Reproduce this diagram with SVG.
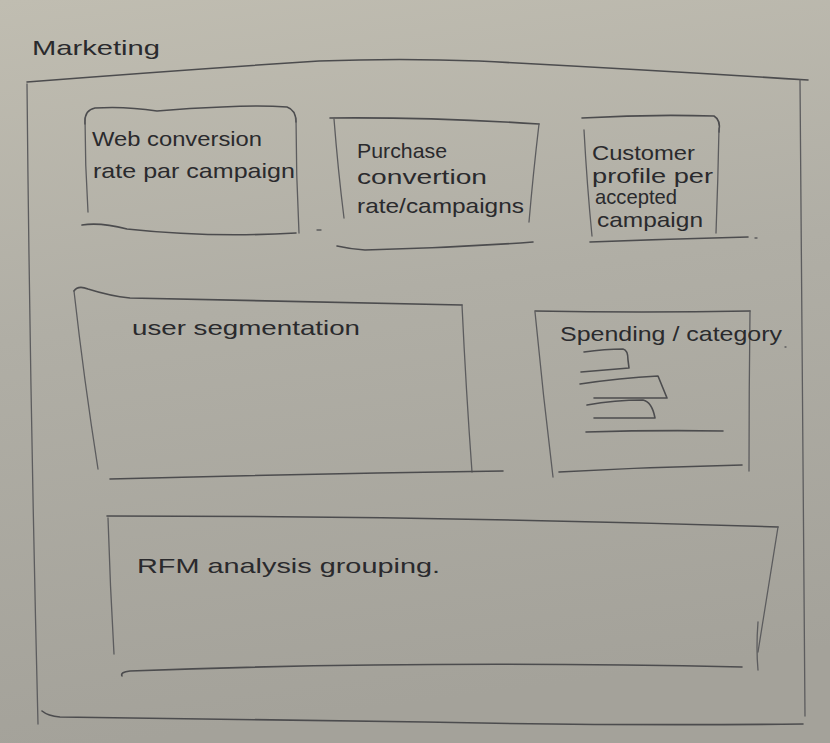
<svg xmlns="http://www.w3.org/2000/svg" width="830" height="743" viewBox="0 0 830 743">
  <defs>
    <linearGradient id="paper" x1="0" y1="0" x2="0.15" y2="1">
      <stop offset="0" stop-color="#c0bdb1"/>
      <stop offset="0.45" stop-color="#b0aea5"/>
      <stop offset="1" stop-color="#a4a29a"/>
    </linearGradient>
    <style>
      .pencil { fill: none; stroke: #4c4c4e; stroke-width: 1.6; stroke-linecap: round; stroke-linejoin: round; }
      .soft { stroke: #5c5c5e; stroke-width: 1.3; }
      .hand { font-family: "Liberation Sans", "DejaVu Sans", sans-serif; fill: #2a2a2d; font-size: 21px; }
    </style>
  </defs>

  <!-- paper -->
  <rect x="0" y="0" width="830" height="743" fill="url(#paper)"/>

  <!-- page title and outer frame -->
  <g id="marketing-panel">
    <text class="hand" x="32" y="55" font-size="23" textLength="128" lengthAdjust="spacingAndGlyphs">Marketing</text>
    <path class="pencil" d="M27 82 Q180 70 319 61 Q400 58 479 61 Q650 70 808 80"/>
    <path class="pencil soft" d="M27 84 Q30 400 38 724"/>
    <path class="pencil soft" d="M800 80 Q802 400 805 716"/>
    <path class="pencil" d="M42 711 Q48 716 60 717 Q250 719 425 722 Q620 726 803 724"/>
  </g>

  <!-- top row of cards -->
  <g id="web-conversion">
    <path class="pencil" d="M85 124 Q84 110 95 108 Q125 106 157 111 Q190 108 222 107 Q260 105 287 107 Q296 110 296 122"/>
    <path class="pencil soft" d="M85 118 Q85 165 88 212"/>
    <path class="pencil soft" d="M296 118 Q296 175 299 233"/>
    <path class="pencil" d="M82 225 Q100 222 127 229 Q210 238 296 233"/>
    <text class="hand" x="92" y="146" textLength="170" lengthAdjust="spacingAndGlyphs">Web conversion</text>
    <text class="hand" x="93" y="178" textLength="202" lengthAdjust="spacingAndGlyphs">rate par campaign</text>
  </g>

  <path class="pencil soft" d="M317 230 L321 230"/>

  <g id="purchase-conversion">
    <path class="pencil" d="M330 118 Q430 117 539 124"/>
    <path class="pencil soft" d="M334 119 Q338 170 344 218"/>
    <path class="pencil soft" d="M539 124 Q533 175 529 222"/>
    <path class="pencil" d="M337 246 Q350 249 365 250 Q450 248 533 242"/>
    <text class="hand" x="357" y="158" textLength="90" lengthAdjust="spacingAndGlyphs">Purchase</text>
    <text class="hand" x="357" y="184" textLength="130" lengthAdjust="spacingAndGlyphs">convertion</text>
    <text class="hand" x="357" y="213" textLength="167" lengthAdjust="spacingAndGlyphs">rate/campaigns</text>
  </g>

  <g id="customer-profile">
    <path class="pencil" d="M582 118 Q650 114 714 116 Q721 120 719 132"/>
    <path class="pencil soft" d="M584 130 Q587 185 592 236"/>
    <path class="pencil soft" d="M719 128 Q718 180 716 233"/>
    <path class="pencil" d="M590 242 Q670 239 748 237"/>
    <path class="pencil soft" d="M755 238 L757 238"/>
    <text class="hand" x="592" y="160" textLength="103" lengthAdjust="spacingAndGlyphs">Customer</text>
    <text class="hand" x="592" y="183" textLength="121" lengthAdjust="spacingAndGlyphs">profile per</text>
    <text class="hand" x="595" y="204" textLength="82" lengthAdjust="spacingAndGlyphs">accepted</text>
    <text class="hand" x="597" y="227" textLength="106" lengthAdjust="spacingAndGlyphs">campaign</text>
  </g>

  <!-- middle row -->
  <g id="user-segmentation">
    <path class="pencil" d="M74 291 Q78 285 88 289 Q110 296 130 298 Q300 302 462 305"/>
    <path class="pencil soft" d="M74 291 Q84 380 98 469"/>
    <path class="pencil soft" d="M462 305 Q466 390 472 472"/>
    <path class="pencil" d="M110 479 Q300 474 503 471"/>
    <text class="hand" x="132" y="335" textLength="228" lengthAdjust="spacingAndGlyphs">user segmentation</text>
  </g>

  <g id="spending-category">
    <path class="pencil" d="M535 311 Q640 313 750 311"/>
    <path class="pencil soft" d="M535 312 Q543 395 553 477"/>
    <path class="pencil soft" d="M750 311 Q749 390 749 471"/>
    <path class="pencil" d="M559 472 Q650 467 742 465"/>
    <text class="hand" x="560" y="341" textLength="222" lengthAdjust="spacingAndGlyphs">Spending / category</text>
    <path class="pencil soft" d="M785 347 L786 347"/>
    <!-- horizontal bar sketch -->
    <path class="pencil" d="M584 352 Q605 349 623 349 Q628 350 628 360 L629 368 Q605 370 581 372"/>
    <path class="pencil" d="M580 384 Q620 378 658 376 L667 398 Q630 398 594 398"/>
    <path class="pencil" d="M587 405 Q615 400 643 400 Q652 402 655 418 Q625 418 594 418"/>
    <path class="pencil" d="M586 432 Q655 430 723 431"/>
  </g>

  <!-- bottom row -->
  <g id="rfm-analysis">
    <path class="pencil" d="M107 516 Q440 516 778 527"/>
    <path class="pencil soft" d="M108 518 Q110 585 114 654"/>
    <path class="pencil soft" d="M778 527 Q769 585 758 652"/>
    <path class="pencil soft" d="M758 622 Q756 648 758 670"/>
    <path class="pencil" d="M122 676 Q120 672 130 671 Q420 660 742 667"/>
    <text class="hand" x="137" y="573" font-size="22" textLength="303" lengthAdjust="spacingAndGlyphs">RFM analysis grouping.</text>
  </g>
</svg>
